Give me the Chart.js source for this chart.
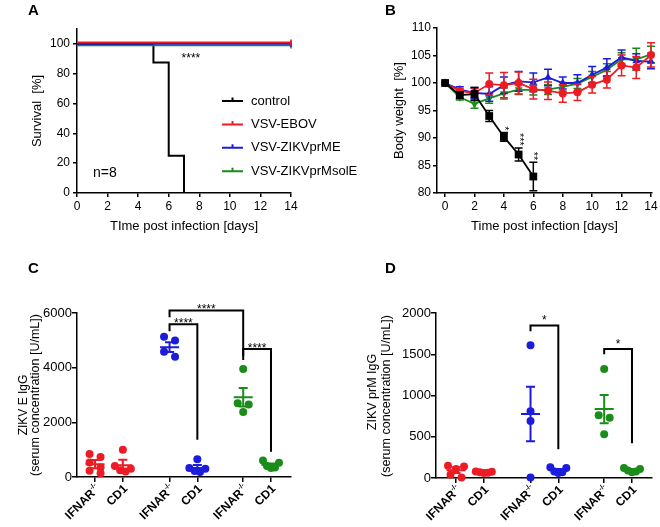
<!DOCTYPE html>
<html>
<head>
<meta charset="utf-8">
<script src="https://cdn.jsdelivr.net/npm/chart.js@4.4.0/dist/chart.umd.min.js"></script>
<style>
  body { margin: 0; background: #fff; width: 660px; height: 527px; position: relative; overflow: hidden; }
  canvas { position: absolute; }
</style>
</head>
<body>
<canvas id="chartB" style="left:330px;top:0" width="330" height="250"></canvas>
<canvas id="chartA" style="left:0;top:0" width="380" height="250"></canvas>
<canvas id="chartC" style="left:0;top:250px" width="330" height="277"></canvas>
<canvas id="chartD" style="left:330px;top:250px" width="330" height="277"></canvas>
<script>
// ---- data ----
const groups = ['control', 'VSV-EBOV', 'VSV-ZIKVprME', 'VSV-ZIKVprMsolE'];
const colors = ['#000000', '#ec1c24', '#1c1cdc', '#1a8c1a'];

// A: survival
const controlSurvivalDays = [0, 5, 6, 7];
const controlSurvival = [100, 87.5, 25, 0];
const vaccineSurvivalDays = [0, 14];
const vaccineSurvival = [100, 100];

// B: body weight (mean, SEM)
const weightDays = [0, 1, 2, 3, 4, 5, 6, 7, 8, 9, 10, 11, 12, 13, 14];
const weightTicks = [0, 2, 4, 6, 8, 10, 12, 14];
const weightControl = [100, 97.8, 98.0, 94.0, 90.2, 87.0, 83.0];
const weightControlSem = [0, 0.6, 1.2, 1.0, 0.8, 1.2, 2.6];
const weightEbov = [100, 98.5, 98.2, 99.8, 99.6, 100.0, 98.9, 98.6, 98.1, 98.3, 99.7, 100.6, 103.2, 102.8, 105.1];
const weightEbovSem = [0, 0.5, 0.8, 2.0, 2.3, 2.0, 1.8, 1.6, 1.6, 1.5, 1.5, 1.5, 1.9, 2.0, 2.2];
const weightPrME = [100, 98.8, 98.2, 98.0, 99.6, 100.3, 100.1, 101.0, 100.0, 100.0, 101.5, 102.8, 104.7, 104.0, 103.9];
const weightPrMESem = [0, 0.5, 1.0, 1.3, 1.5, 1.8, 1.7, 1.5, 1.1, 1.5, 1.5, 1.6, 1.3, 1.3, 1.3];
const weightPrMsolE = [100, 97.4, 96.2, 97.2, 98.1, 98.8, 98.7, 98.8, 99.3, 99.9, 101.1, 102.4, 104.3, 104.3, 105.2];
const weightPrMsolESem = [0, 0.5, 0.8, 0.9, 1.0, 0.9, 0.9, 0.9, 0.8, 0.9, 1.0, 1.1, 1.2, 2.0, 1.5];
const starDays = [4, 5, 6];
const starLabels = ['*', '***', '**'];

// C / D: antibody titers per mouse strain
const mouseStrains = ['IFNAR', 'CD1', 'IFNAR', 'CD1', 'IFNAR', 'CD1'];
const strainSup = ['-/-', '', '-/-', '', '-/-', ''];
const strainGroup = [1, 1, 2, 2, 3, 3];
const strainPositions = [0, 1, 2.68, 3.68, 5.33, 6.33];

const eIgG = [[840, 730, 530, 350, 230, 140], [1000, 400, 250, 200, 300], [5130, 4990, 4580, 4400],
              [650, 330, 220, 180, 300], [3950, 2700, 2650, 2380], [600, 520, 350, 330, 400]];
const eIgGMean = [470, 430, 4750, 330, 2920, 440];
const eIgGSem = [150, 200, 180, 110, 340, 50];
const eBracketPairs = [[2, 3], [2, 4], [4, 5]];
const eBracketLevels = [5590, 6090, 4680];
const eBracketEnds = [[5330, 1360], [5840, 4280], [4420, 920]];
const eBracketLabels = ['****', '****', '****'];

const prmIgG = [[150, 140, 110, 40, 5], [80, 70, 65, 60, 75], [1610, 810, 690, 5],
                [130, 120, 80, 60, 70], [1320, 760, 730, 530], [120, 110, 80, 70, 90]];
const prmIgGMean = [95, 70, 775, 95, 835, 95];
const prmIgGSem = [35, 5, 330, 15, 170, 10];
const prmBracketPairs = [[2, 3], [4, 5]];
const prmBracketLevels = [1850, 1565];
const prmBracketEnds = [[1780, 350], [1500, 420]];
const prmBracketLabels = ['*', '*'];

// ---- common ----
const FONT = "'Liberation Sans', Arial, sans-serif";
Chart.defaults.font.family = FONT;
Chart.defaults.color = '#000';

const gridStyle = (len) => ({ display: true, drawOnChartArea: false, drawTicks: true, tickLength: len, color: '#000', lineWidth: 1.5 });
const borderStyle = { display: true, color: '#000', width: 1.5 };
const plainNumber = v => String(v);

function textPlugin(id, items) {
  return {
    id,
    afterDraw(chart) {
      const ctx = chart.ctx;
      items.forEach(t => {
        ctx.save();
        ctx.translate(t.x, t.y);
        if (t.rot) ctx.rotate(t.rot);
        ctx.font = t.font;
        ctx.fillStyle = '#000';
        ctx.textAlign = t.align || 'center';
        ctx.textBaseline = t.base || 'middle';
        ctx.fillText(t.text, 0, 0);
        ctx.restore();
      });
    }
  };
}

// ---- A: survival ----
const survivalNudge = [0, -1.5, 0, 1.5];
const nudgePlugin = {
  id: 'nudge',
  beforeDatasetDraw(chart, args) {
    chart.ctx.save();
    chart.ctx.translate(0, survivalNudge[args.index]);
  },
  afterDatasetDraw(chart) { chart.ctx.restore(); }
};
const legendA = {
  id: 'legendA',
  afterDraw(chart) {
    const { ctx, chartArea } = chart;
    ctx.save();
    ctx.font = `13px ${FONT}`;
    ctx.textBaseline = 'middle';
    groups.forEach((g, i) => {
      const x = chartArea.left + 145;
      const y = chartArea.top + 72 + i * 23.4;
      ctx.strokeStyle = colors[i];
      ctx.lineWidth = 2;
      ctx.beginPath();
      ctx.moveTo(x, y); ctx.lineTo(x + 21, y);
      ctx.moveTo(x + 10.5, y); ctx.lineTo(x + 10.5, y - 3.5);
      ctx.stroke();
      ctx.fillStyle = '#000';
      ctx.fillText(g, x + 29, y);
    });
    ctx.restore();
  }
};
const notesA = {
  id: 'notesA',
  afterDraw(chart) {
    const { ctx, scales: { x, y } } = chart;
    ctx.save();
    ctx.fillStyle = '#000';
    ctx.textBaseline = 'middle';
    ctx.font = `12px ${FONT}`;
    ctx.textAlign = 'center';
    ctx.fillText('****', x.getPixelForValue(7.45), y.getPixelForValue(90));
    ctx.font = `14px ${FONT}`;
    ctx.textAlign = 'left';
    ctx.fillText('n=8', x.getPixelForValue(1.05), y.getPixelForValue(13.5));
    ctx.restore();
  }
};

const cA = document.getElementById('chartA');
new Chart(cA, {
  type: 'line',
  data: {
    datasets: [
      {
        label: groups[0],
        data: controlSurvivalDays.map((d, i) => ({ x: d, y: controlSurvival[i] })),
        borderColor: colors[0], borderWidth: 2, stepped: true, pointRadius: 0, order: 4, clip: 6
      },
      ...[1, 2, 3].map(g => ({
        label: groups[g],
        data: vaccineSurvivalDays.map((d, i) => ({ x: d, y: vaccineSurvival[i] })),
        borderColor: colors[g], borderWidth: 1.6, stepped: true,
        pointStyle: 'line', rotation: 90, pointRadius: [0, 3], pointBorderColor: colors[g], pointBorderWidth: 1.6,
        order: g, clip: 6
      }))
    ]
  },
  options: {
    responsive: false, animation: false, events: [],
    layout: { padding: { left: 0, top: 29, right: cA.width - 291, bottom: 0 } },
    plugins: { legend: { display: false }, tooltip: { enabled: false } },
    scales: {
      x: {
        type: 'linear', min: 0, max: 14,
        ticks: { stepSize: 2, font: { size: 12 }, padding: 2, maxRotation: 0 },
        grid: gridStyle(4), border: borderStyle,
        title: { display: true, text: 'TIme post infection [days]', font: { size: 13 }, padding: { top: 0, bottom: 16 } },
        afterFit: s => { s.height = cA.height - 193; }
      },
      y: {
        min: 0, max: 110,
        ticks: { stepSize: 20, includeBounds: false, font: { size: 12 }, padding: 3 },
        grid: gridStyle(4), border: borderStyle,
        title: { display: true, text: 'Survival  [%]', font: { size: 13 }, padding: { top: 30, bottom: 0 } },
        afterFit: s => { s.width = 77; }
      }
    }
  },
  plugins: [nudgePlugin, legendA, notesA,
    textPlugin('letterA', [{ text: 'A', x: 28, y: 15, font: `bold 15px ${FONT}`, align: 'left', base: 'alphabetic' }])]
});

// ---- B: body weight ----
const weightSeries = [weightControl, weightEbov, weightPrME, weightPrMsolE];
const weightSems = [weightControlSem, weightEbovSem, weightPrMESem, weightPrMsolESem];
const markerStyle = ['rect', 'circle', 'triangle', 'triangle'];
const markerSize = [5.5, 4, 4.5, 4.5];
const markerRot = [0, 0, 0, 180];

const errorBars = {
  id: 'errorBars',
  afterDatasetDraw(chart, args) {
    const ds = chart.data.datasets[args.index];
    const { ctx, scales: { y } } = chart;
    ctx.save();
    ctx.strokeStyle = ds.borderColor;
    ctx.lineWidth = 1.5;
    args.meta.data.forEach((pt, i) => {
      const s = ds.sem[i];
      if (!s) return;
      const v = ds.data[i].y;
      const yt = y.getPixelForValue(v + s), yb = y.getPixelForValue(v - s);
      ctx.beginPath();
      ctx.moveTo(pt.x, yt); ctx.lineTo(pt.x, yb);
      ctx.moveTo(pt.x - 4, yt); ctx.lineTo(pt.x + 4, yt);
      ctx.moveTo(pt.x - 4, yb); ctx.lineTo(pt.x + 4, yb);
      ctx.stroke();
    });
    ctx.restore();
  }
};
const starsB = {
  id: 'starsB',
  afterDatasetsDraw(chart) {
    const { ctx, scales: { x, y } } = chart;
    ctx.save();
    ctx.fillStyle = '#000';
    ctx.font = `11px ${FONT}`;
    ctx.textAlign = 'right';
    ctx.textBaseline = 'middle';
    starDays.forEach((d, k) => {
      const i = weightDays.indexOf(d);
      const top = y.getPixelForValue(weightControl[i] + weightControlSem[i]);
      ctx.save();
      ctx.translate(x.getPixelForValue(d), top - 2);
      ctx.rotate(Math.PI / 2);
      ctx.fillText(starLabels[k], 0, 0);
      ctx.restore();
    });
    ctx.restore();
  }
};

const cB = document.getElementById('chartB');
new Chart(cB, {
  type: 'line',
  data: {
    datasets: weightSeries.map((vals, g) => ({
      label: groups[g],
      data: vals.map((v, i) => ({ x: weightDays[i], y: v })),
      sem: weightSems[g],
      borderColor: colors[g], backgroundColor: colors[g], borderWidth: 1.8,
      pointStyle: markerStyle[g], pointRadius: markerSize[g], rotation: markerRot[g],
      pointBorderWidth: 0, clip: false
    }))
  },
  options: {
    responsive: false, animation: false, events: [],
    layout: { padding: { left: 0, top: 28, right: cB.width - 322, bottom: 0 } },
    plugins: { legend: { display: false }, tooltip: { enabled: false } },
    scales: {
      x: {
        type: 'linear', min: -0.55, max: 14.07,
        afterBuildTicks: s => { s.ticks = weightTicks.map(v => ({ value: v })); },
        ticks: { font: { size: 12 }, padding: 2, maxRotation: 0 },
        grid: gridStyle(4), border: borderStyle,
        title: { display: true, text: 'Time post infection [days]', font: { size: 13 }, padding: { top: 0, bottom: 16 } },
        afterFit: s => { s.height = cB.height - 193; }
      },
      y: {
        min: 80, max: 110,
        ticks: { stepSize: 5, font: { size: 12 }, padding: 2 },
        grid: gridStyle(4), border: borderStyle,
        title: { display: true, text: 'Body weight  [%]', font: { size: 13 }, padding: { top: 62, bottom: 0 } },
        afterFit: s => { s.width = 107; }
      }
    }
  },
  plugins: [errorBars, starsB,
    textPlugin('letterB', [{ text: 'B', x: 55, y: 15, font: `bold 15px ${FONT}`, align: 'left', base: 'alphabetic' }])]
});

// ---- C / D: dot plots ----
// dots closer than one diameter vertically share a row; the row is spread sideways (pixel offsets)
function swarm(values, pxPerY, diam) {
  const offs = values.map(() => 0);
  const order = values.map((v, i) => i).sort((a, b) => values[b] - values[a]);
  let k = 0;
  while (k < order.length) {
    const start = values[order[k]] * pxPerY;
    const row = [];
    while (k < order.length && start - values[order[k]] * pxPerY < diam) row.push(order[k++]);
    const n = row.length;
    const gap = n > 1 ? Math.min(11, 16 / (n - 1)) : 0;
    // zigzag: left end, right end, next left, ...
    const slots = [];
    for (let a = 0, b = n - 1; a <= b; a++, b--) { slots.push(a); if (a !== b) slots.push(b); }
    row.forEach((idx, j) => { offs[idx] = (slots[j] - (n - 1) / 2) * gap; });
  }
  return offs;
}

const meanSem = {
  id: 'meanSem',
  afterDatasetsDraw(chart) {
    const { ctx, scales: { x, y } } = chart;
    ctx.save();
    ctx.lineWidth = 2;
    chart.data.datasets.forEach(ds => {
      const cx = x.getPixelForValue(ds.center);
      const ym = y.getPixelForValue(ds.mean);
      const yt = y.getPixelForValue(ds.mean + ds.sem), yb = y.getPixelForValue(ds.mean - ds.sem);
      ctx.strokeStyle = ds.backgroundColor;
      ctx.beginPath();
      ctx.moveTo(cx - 9.5, ym); ctx.lineTo(cx + 9.5, ym);
      ctx.moveTo(cx, yt); ctx.lineTo(cx, yb);
      ctx.moveTo(cx - 4.5, yt); ctx.lineTo(cx + 4.5, yt);
      ctx.moveTo(cx - 4.5, yb); ctx.lineTo(cx + 4.5, yb);
      ctx.stroke();
    });
    ctx.restore();
  }
};

const strainLabels = {
  id: 'strainLabels',
  afterDraw(chart) {
    const { ctx, scales: { x }, chartArea } = chart;
    strainPositions.forEach((p, i) => {
      ctx.save();
      ctx.fillStyle = '#000';
      ctx.textBaseline = 'middle';
      ctx.textAlign = 'left';
      ctx.translate(x.getPixelForValue(p) + 3, chartArea.bottom + 10);
      ctx.rotate(-Math.PI / 4);
      ctx.font = `bold 7px ${FONT}`;
      const wSup = strainSup[i] ? ctx.measureText(strainSup[i]).width : 0;
      ctx.font = `bold 12px ${FONT}`;
      const wMain = ctx.measureText(mouseStrains[i]).width;
      ctx.fillText(mouseStrains[i], -(wMain + wSup), 0);
      if (strainSup[i]) {
        ctx.font = `bold 7px ${FONT}`;
        ctx.fillText(strainSup[i], -wSup, -4);
      }
      ctx.restore();
    });
  }
};

function bracketPlugin(pairs, levels, ends, labels, starGap, starSize) {
  return {
    id: 'brackets',
    afterDatasetsDraw(chart) {
      const { ctx, scales: { x, y } } = chart;
      ctx.save();
      ctx.strokeStyle = '#000';
      ctx.fillStyle = '#000';
      ctx.lineWidth = 2;
      pairs.forEach(([a, b], k) => {
        const x1 = x.getPixelForValue(strainPositions[a]);
        const x2 = x.getPixelForValue(strainPositions[b]);
        const yl = y.getPixelForValue(levels[k]);
        ctx.beginPath();
        ctx.moveTo(x1, y.getPixelForValue(ends[k][0]));
        ctx.lineTo(x1, yl);
        ctx.lineTo(x2, yl);
        ctx.lineTo(x2, y.getPixelForValue(ends[k][1]));
        ctx.stroke();
        ctx.font = `${starSize}px ${FONT}`;
        ctx.textAlign = 'center';
        ctx.textBaseline = 'alphabetic';
        ctx.fillText(labels[k], (x1 + x2) / 2, yl - starGap + starSize * 0.57);
      });
      ctx.restore();
    }
  };
}

function dotPlot(canvas, area, cfg) {
  const [L, T, R, B] = area;
  const pxX = (R - L) / (cfg.xMax - cfg.xMin);
  const pxY = (B - T) / cfg.yMax;
  const datasets = cfg.values.map((vals, g) => {
    const offs = swarm(vals, pxY, 8);
    return {
      data: vals.map((v, i) => ({ x: strainPositions[g] + offs[i] / pxX, y: v })),
      backgroundColor: colors[strainGroup[g]],
      borderWidth: 0, pointRadius: 4, pointHoverRadius: 4, clip: false,
      center: strainPositions[g], mean: cfg.means[g], sem: cfg.sems[g]
    };
  });
  return new Chart(canvas, {
    type: 'scatter',
    data: { datasets },
    options: {
      responsive: false, animation: false, events: [],
      layout: { padding: { left: 0, top: T, right: canvas.width - R, bottom: 0 } },
      plugins: { legend: { display: false }, tooltip: { enabled: false } },
      scales: {
        x: {
          type: 'linear', min: cfg.xMin, max: cfg.xMax,
          afterBuildTicks: s => { s.ticks = strainPositions.map(v => ({ value: v })); },
          ticks: { display: false },
          grid: gridStyle(5), border: borderStyle,
          afterFit: s => { s.height = canvas.height - B; }
        },
        y: {
          min: 0, max: cfg.yMax,
          ticks: { stepSize: cfg.yStep, font: { size: 13 }, padding: 0, callback: plainNumber },
          grid: gridStyle(5), border: borderStyle,
          afterFit: s => { s.width = L; }
        }
      }
    },
    plugins: [meanSem, strainLabels, cfg.brackets, textPlugin('labels', cfg.texts)]
  });
}

dotPlot(document.getElementById('chartC'), [77, 63, 291, 227], {
  xMin: -0.65, xMax: 7.05, yMax: 6000, yStep: 2000,
  values: eIgG, means: eIgGMean, sems: eIgGSem,
  brackets: bracketPlugin(eBracketPairs, eBracketLevels, eBracketEnds, eBracketLabels, 4, 12),
  texts: [
    { text: 'C', x: 28, y: 23, font: `bold 15px ${FONT}`, align: 'left', base: 'alphabetic' },
    { text: 'ZIKV E IgG', x: 24, y: 155, rot: -Math.PI / 2, font: `12px ${FONT}` },
    { text: '(serum concentration [U/mL])', x: 36, y: 145, rot: -Math.PI / 2, font: `12.5px ${FONT}` }
  ]
});

dotPlot(document.getElementById('chartD'), [106, 63, 322, 228], {
  xMin: -0.72, xMax: 7.05, yMax: 2000, yStep: 500,
  values: prmIgG, means: prmIgGMean, sems: prmIgGSem,
  brackets: bracketPlugin(prmBracketPairs, prmBracketLevels, prmBracketEnds, prmBracketLabels, 8, 12),
  texts: [
    { text: 'D', x: 55, y: 23, font: `bold 15px ${FONT}`, align: 'left', base: 'alphabetic' },
    { text: 'ZIKV prM IgG', x: 43, y: 142, rot: -Math.PI / 2, font: `12.5px ${FONT}` },
    { text: '(serum concentration [U/mL])', x: 57, y: 146, rot: -Math.PI / 2, font: `12.5px ${FONT}` }
  ]
});
</script>
</body>
</html>
